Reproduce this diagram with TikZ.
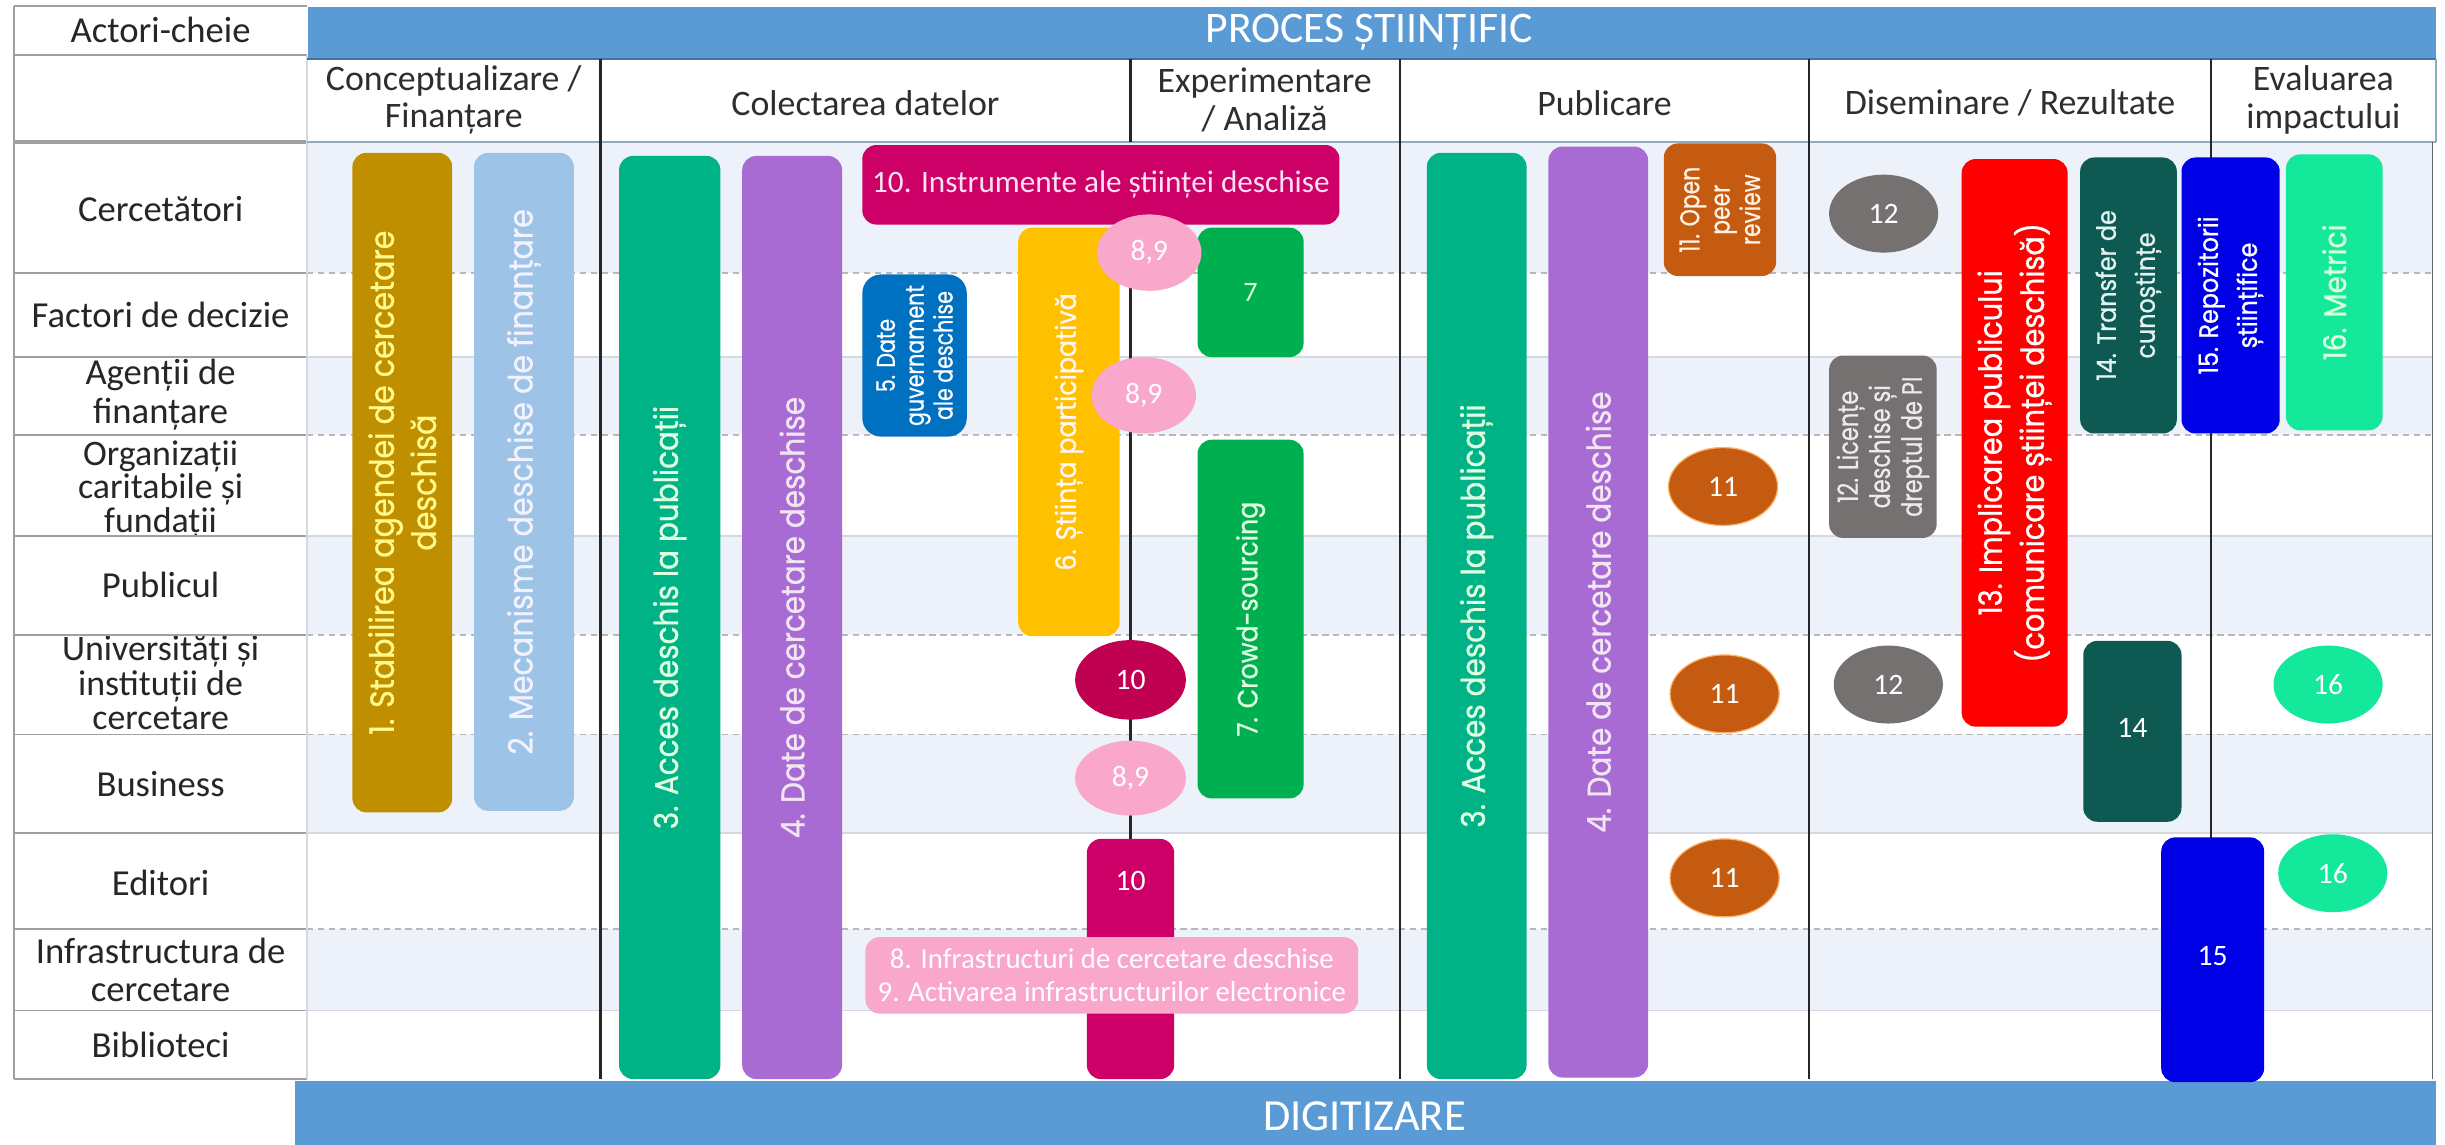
\documentclass[tikz,border=0pt]{standalone}
\usepackage{fontspec}
\setmainfont{Carlito}
\newfontfamily\barfont[FakeStretch=0.9, FakeBold=0.8]{Poppins}
\newfontfamily\smallbarfont[FakeStretch=0.8, FakeBold=0.6]{Poppins}
\usetikzlibrary{shapes.geometric}
\definecolor{hblue}{HTML}{5B9BD5}
\definecolor{hblueline}{HTML}{41719C}
\definecolor{rowlight}{HTML}{EDF1F9}
\definecolor{gridgrey}{HTML}{B8B8B8}
\definecolor{gridlight}{HTML}{D5D8DE}
\definecolor{labgrey}{HTML}{A0A0A0}
\definecolor{labtext}{HTML}{262626}
\definecolor{phtext}{HTML}{2E2E2E}
\definecolor{cgold}{HTML}{BF8F00}
\definecolor{clblue}{HTML}{9DC3E6}
\definecolor{cgreen}{HTML}{00B386}
\definecolor{cpurple}{HTML}{A86BD4}
\definecolor{cblue}{HTML}{0070C0}
\definecolor{cyellow}{HTML}{FFC000}
\definecolor{cgreenb}{HTML}{00B050}
\definecolor{cmag}{HTML}{CC0066}
\definecolor{ccrim}{HTML}{C00050}
\definecolor{cpink}{HTML}{F9A8CC}
\definecolor{corange}{HTML}{C55A11}
\definecolor{cgrey}{HTML}{767171}
\definecolor{cred}{HTML}{FF0000}
\definecolor{cteal}{HTML}{0E5A52}
\definecolor{croyal}{HTML}{0000E6}
\definecolor{cmint}{HTML}{14E89A}
\begin{document}
\begin{tikzpicture}[x=1pt,y=-1pt,
  bar/.style={rounded corners=9pt, inner sep=0pt, align=center, text=white},
  rbar/.style={bar, rotate=90},
  circ/.style={ellipse, inner sep=0pt, minimum width=70pt, minimum height=50pt, font=\fontsize{19}{20}\selectfont, text=white},
  lab/.style={font=\fontsize{23.5}{24}\selectfont, text=labtext, align=center, inner sep=0pt},
  phase/.style={font=\fontsize{23}{24}\selectfont, text=phtext, align=center, inner sep=0pt},
  dline/.style={draw=gridgrey, line width=1.2pt, dash pattern=on 4pt off 3pt},
  sline/.style={draw=gridlight, line width=1.2pt},
  vline/.style={draw=black!85, line width=1.5pt},
  labline/.style={draw=labgrey, line width=1.2pt},
  numtxt/.style={font=\fontsize{19}{20}\selectfont, text=white, inner sep=0pt},
]
\useasboundingbox (0,0) rectangle (1568,734);
\fill[white] (0,0) rectangle (1568,734);

% body rows
\fill[rowlight] (197,91) rectangle (1560,175);
\fill[rowlight] (197,229) rectangle (1560,279);
\fill[rowlight] (197,344) rectangle (1560,407);
\fill[rowlight] (197,471) rectangle (1560,534);
\fill[rowlight] (197,596) rectangle (1560,648);
\foreach \yy in {175,279,407,471,596} \draw[dline] (197,\yy) -- (1560,\yy);
\foreach \yy in {229,344,534,648} \draw[sline] (197,\yy) -- (1560,\yy);

% label column
\node[lab] (l0) at (103,19) {Actori-cheie};
\node[lab] (l1) at (103,134) {Cercetători};
\node[lab] (l2) at (103,202) {Factori de decizie};
\node[lab, font=\fontsize{23.5}{25}\selectfont] (l3) at (103,253) {Agenții de\\finanțare};
\node[lab, font=\fontsize{23}{21.5}\selectfont] (l4) at (103,314) {Organizații\\caritabile și\\fundații};
\node[lab] (l5) at (103,375) {Publicul};
\node[lab, font=\fontsize{23}{22}\selectfont] (l6) at (103,438) {Universități și\\instituții de\\cercetare};
\node[lab] (l7) at (103,503) {Business};
\node[lab] (l8) at (103,566) {Editori};
\node[lab, font=\fontsize{23.5}{25}\selectfont] (l9) at (103,622) {Infrastructura de\\cercetare};
\node[lab] (l10) at (103,670) {Biblioteci};
\fill[white] (10,344.6) rectangle (196,358);
\foreach \yy in {4,35,175,229,279,344,407,471,534,596,648,692} \draw[labline] (9,\yy) -- (197,\yy);
\draw[draw=labgrey, line width=2.6pt] (9,91) -- (197,91);
\draw[labline] (9,4) -- (9,692);
\draw[draw=gridlight, line width=1pt] (197,35) -- (197,692);

% header
\node[fill=hblue, minimum width=1365pt, minimum height=34pt, inner sep=0pt, anchor=north west] (hdr) at (197,4) {};
\draw[hblueline, line width=1.2pt] (197,38) -- (1562,38);
\node[font=\fontsize{28}{30}\selectfont, text=white] (hdrt) at (878,21) {PROCES ȘTIINȚIFIC};
\draw[draw=hblueline!60, line width=1.4pt] (197,91) -- (1562,91);
\draw[draw=hblueline!60, line width=1.2pt] (1562,38) -- (1562,91);
\node[phase] (p1) at (291,64) {Conceptualizare /\\Finanțare};
\node[phase] (p2) at (555,66) {Colectarea datelor};
\node[phase] (p3) at (811,64) {Experimentare\\/ Analiză};
\node[phase] (p4) at (1029,66) {Publicare};
\node[phase] (p5) at (1289,66) {Diseminare / Rezultate};
\node[phase] (p6) at (1490,64) {Evaluarea\\impactului};

% vertical dividers
\foreach \xx in {385,725,898,1160,1418} \draw[vline] (\xx,38) -- (\xx,91);
\draw[vline] (385,91) -- (385,692);
\draw[vline] (898,91) -- (898,692);
\draw[vline] (1160,91) -- (1160,692);
\draw[vline] (1418,91) -- (1418,538);
\draw[vline] (725,145) -- (725,538);
\draw[draw=black!60, line width=1pt] (1560,91) -- (1560,692);

% DIGITIZARE
\node[fill=hblue, minimum width=1373pt, minimum height=41pt, inner sep=0pt, anchor=north west] (dig) at (189,693) {};
\node[font=\fontsize{28.5}{30}\selectfont, text=white] (digt) at (875,716) {DIGITIZARE};

% Conceptualizare
\node[rbar, fill=cgold, minimum width=423pt, minimum height=64pt, text=yellow!45, font=\barfont\fontsize{21.5}{27}\selectfont] (b1) at (258,309.5) {1. Stabilirea agendei de cercetare\\deschisă};
\node[rbar, fill=clblue, minimum width=422pt, minimum height=64pt, text=white!95!blue, font=\barfont\fontsize{21.5}{24}\selectfont] (b2) at (336,309) {2. Mecanisme deschise de finanțare};

% Colectarea datelor
\node[rbar, fill=cgreen, minimum width=592pt, minimum height=65pt, text=white!88!green, font=\barfont\fontsize{21}{24}\selectfont] (b3) at (429.5,396) {3. Acces deschis la publicații};
\node[rbar, fill=cpurple, minimum width=592pt, minimum height=64pt, text=white!90!violet, font=\barfont\fontsize{21}{24}\selectfont] (b4) at (508,396) {4. Date de cercetare deschise};
\node[rbar, rounded corners=12pt, fill=cblue, minimum width=104pt, minimum height=67pt, font=\smallbarfont\fontsize{16.5}{18.5}\selectfont] (b5) at (586.5,228) {5. Date\\guvernament\\ale deschise};
\node[rbar, fill=cyellow, minimum width=262pt, minimum height=65pt, text=white!85!pink, font=\barfont\fontsize{18}{20}\selectfont] (b6) at (685.5,277) {6. Știința participativă};
\node[bar, fill=cmag, minimum width=306pt, minimum height=51pt, text=white!88!magenta, font=\fontsize{20}{22}\selectfont] (b10a) at (706,118.5) {10. Instrumente ale științei deschise};

% Experimentare
\node[bar, fill=cgreenb, minimum width=68pt, minimum height=83pt, text=white!85!green, font=\fontsize{18}{19}\selectfont] (b7a) at (802,187.5) {7};
\node[rbar, fill=cgreenb, minimum width=230pt, minimum height=68pt, text=white!88!green, font=\barfont\fontsize{18}{20}\selectfont] (b7b) at (802,397) {7. Crowd-sourcing};
\node[bar, fill=cmag, minimum width=56pt, minimum height=154pt] (b10b) at (725,615) {};
\node[numtxt] (t10b) at (725,565) {10};
\node[circ, fill=cpink, minimum width=67pt, minimum height=49pt] (c89a) at (737,162) {8,9};
\node[circ, fill=cpink, minimum width=67pt, minimum height=49pt] (c89b) at (733.5,253.5) {8,9};
\node[circ, fill=ccrim, minimum width=71pt, minimum height=51pt] (c10) at (725,436) {10};
\node[circ, fill=cpink, minimum width=71pt, minimum height=48pt] (c89c) at (725,499) {8,9};
\node[bar, fill=cpink, minimum width=316pt, minimum height=49pt, font=\fontsize{18.5}{21}\selectfont] (b89) at (713,625.5) {8. Infrastructuri de cercetare deschise\\9. Activarea infrastructurilor electronice};

% Publicare
\node[rbar, fill=cgreen, minimum width=594pt, minimum height=64pt, text=white!88!green, font=\barfont\fontsize{21}{24}\selectfont] (b3p) at (947,395) {3. Acces deschis la publicații};
\node[rbar, fill=cpurple, minimum width=597pt, minimum height=64pt, text=white!90!violet, font=\barfont\fontsize{21}{24}\selectfont] (b4p) at (1025,392.5) {4. Date de cercetare deschise};
\node[rbar, fill=corange, minimum width=85pt, minimum height=72pt, text=white!90!orange, font=\smallbarfont\fontsize{17.5}{19.5}\selectfont] (b11) at (1103,134.5) {11. Open\\peer\\review};
\node[circ, fill=corange, draw=orange!60, line width=0.8pt] (c11a) at (1105,312) {11};
\node[circ, fill=corange, draw=orange!60, line width=0.8pt] (c11b) at (1106,445) {11};
\node[circ, fill=corange, draw=orange!60, line width=0.8pt] (c11c) at (1106,563) {11};

% Diseminare
\node[circ, fill=cgrey] (c12a) at (1208,137) {12};
\node[rbar, fill=cgrey, minimum width=117pt, minimum height=69pt, text=white!92!black, font=\smallbarfont\fontsize{18}{20.5}\selectfont] (b12) at (1207.5,286.5) {12. Licențe\\deschise și\\dreptul de PI};
\node[circ, fill=cgrey] (c12b) at (1211,439) {12};
\node[rbar, fill=cred, minimum width=364pt, minimum height=68pt, font=\barfont\fontsize{20.5}{27}\selectfont] (b13) at (1292,284) {13. Implicarea publicului\\(comunicare științei deschisă)};
\node[rbar, fill=cteal, minimum width=177pt, minimum height=62pt, text=white!90!teal, font=\barfont\fontsize{17}{25}\selectfont] (b14a) at (1365,189.5) {14. Transfer de\\cunoștințe};
\node[bar, fill=cteal, minimum width=63pt, minimum height=116pt] (b14b) at (1367.5,469) {};
\node[numtxt] (t14b) at (1367.5,467) {14};

% Evaluarea impactului
\node[rbar, fill=croyal, minimum width=177pt, minimum height=63pt, font=\barfont\fontsize{17}{25}\selectfont] (b15a) at (1430.5,189.5) {15. Repozitorii\\științifice};
\node[bar, fill=croyal, minimum width=66pt, minimum height=157pt] (b15b) at (1419,615.5) {};
\node[numtxt] (t15b) at (1419,613) {15};
\node[rbar, fill=cmint, minimum width=177pt, minimum height=62pt, text=white!85!green, font=\barfont\fontsize{20}{22}\selectfont] (b16) at (1497,187.5) {16. Metrici};
\node[circ, fill=cmint] (c16a) at (1493,439) {16};
\node[circ, fill=cmint] (c16b) at (1496,560) {16};
\end{tikzpicture}
\end{document}
